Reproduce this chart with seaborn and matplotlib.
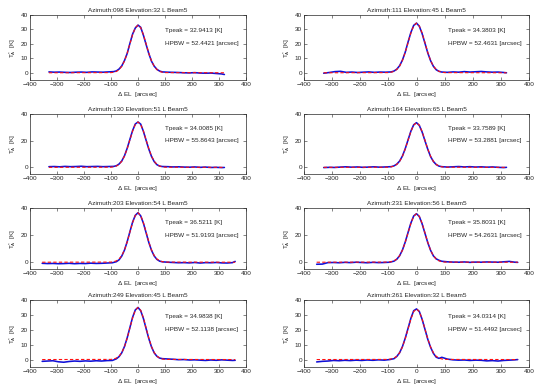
import pandas as pd
import seaborn as sns
import matplotlib
import matplotlib.pyplot as plt
matplotlib.use('Agg')

# ---------------------------------------------------------------
# beam scan data
# ---------------------------------------------------------------
X_A = [-330, -310, -290, -270, -250, -230, -210, -190, -170, -150, -130, -110, -90,
       -80, -70, -60, -50, -40, -30, -20, -10, 0, 10, 20, 30, 40, 50, 60, 70, 80, 90,
       110, 130, 150, 170, 190, 210, 230, 250, 270, 290, 310, 320]
X_B = [-355, -335, -315, -295, -275, -255, -235, -215, -195, -175, -155, -135, -115, -95,
       -80, -70, -60, -50, -40, -30, -20, -10, 0, 10, 20, 30, 40, 50, 60, 70, 80, 90,
       110, 130, 150, 170, 190, 210, 230, 250, 270, 290, 310, 330, 350, 360]

FIT_X_A = [-330, -100, -90, -80, -70, -60, -50, -40, -30, -20, -10, 0,
           10, 20, 30, 40, 50, 60, 70, 80, 90, 100, 320]
FIT_X_B = [-355, -100, -90, -80, -70, -60, -50, -40, -30, -20, -10, 0,
           10, 20, 30, 40, 50, 60, 70, 80, 90, 100, 360]

DATA_1 = [0.6, 0.4, 0.5, 0.3, 0.2, 0.4, 0.5, 0.3, 0.6, 0.5, 0.4, 0.6, 0.8,
          1.3, 2.6, 4.8, 8.5, 13.4, 20.3, 26.8, 31.0, 33.0, 31.5, 26.0, 19.6, 13.3, 8.0, 4.6, 2.4, 1.2, 0.6,
          0.4, 0.3, 0.2, 0.0, -0.1, 0.1, -0.2, -0.3, -0.2, -0.5, -0.8, -1.2]
DATA_2 = [-0.3, 0.2, 0.8, 1.0, 0.3, 0.5, 0.2, 0.4, 0.6, 0.3, 0.5, 0.4, 0.6,
          1.2, 2.5, 4.9, 8.8, 14.3, 21.3, 27.9, 32.8, 34.4, 32.2, 27.1, 20.5, 13.8, 8.4, 4.5, 2.1, 1.0, 0.5,
          0.3, 0.6, 0.4, 0.8, 0.5, 0.7, 0.9, 0.6, 0.4, 0.5, 0.2, 0.0]
DATA_3 = [0.5, 0.6, 0.4, 0.7, 0.5, 0.6, 0.8, 0.5, 0.6, 0.7, 0.5, 0.6, 0.7,
          1.2, 2.5, 4.8, 8.7, 14.3, 21.0, 27.6, 32.5, 34.0, 32.4, 27.0, 20.3, 13.7, 8.2, 4.3, 2.0, 0.9, 0.6,
          0.5, 0.3, 0.4, 0.2, 0.1, 0.3, 0.0, 0.2, -0.1, 0.0, -0.2, -0.1]
DATA_4 = [-0.2, 0.0, -0.1, 0.2, 0.4, 0.1, 0.3, 0.0, 0.2, 0.4, 0.1, 0.3, 0.5,
          1.1, 2.4, 4.7, 8.5, 14.0, 20.6, 27.1, 31.9, 33.5, 31.4, 26.5, 20.0, 13.6, 8.1, 4.4, 2.1, 0.9, 0.5,
          0.2, 0.4, 0.6, 0.3, 0.5, 0.2, 0.4, 0.1, 0.3, 0.0, -0.2, 0.0]
DATA_5 = [-0.8, -1.0, -0.9, -1.1, -1.0, -0.8, -1.1, -0.9, -1.0, -0.7, -0.9, -0.8, -0.6, -0.4,
          0.4, 1.8, 4.6, 9.0, 15.2, 22.5, 29.6, 34.6, 36.5, 34.2, 28.8, 21.8, 14.6, 8.8, 4.6, 2.1, 0.8, 0.3,
          0.0, -0.2, -0.4, -0.3, -0.5, -0.2, -0.6, -0.3, -0.4, -0.2, -0.5, -0.6, -0.3, 0.6]
DATA_6 = [-1.5, -1.4, -0.3, -0.2, -0.4, -0.1, -0.3, 0.0, -0.2, -0.4, -0.1, -0.3, -0.2, 0.0,
          0.8, 2.2, 4.8, 9.0, 14.9, 22.0, 28.9, 34.1, 35.8, 33.7, 28.3, 21.4, 14.5, 8.8, 4.7, 2.5, 1.4, 0.7,
          0.3, 0.1, 0.0, 0.2, -0.1, 0.1, 0.0, 0.2, 0.1, 0.0, 0.3, 0.6, 0.0, -0.1]
DATA_7 = [-1.2, -1.0, -0.8, -1.5, -1.8, -1.3, -1.0, -1.2, -0.9, -1.1, -0.8, -1.0, -0.7, -0.6,
          0.5, 2.0, 4.6, 8.8, 14.6, 21.5, 28.4, 33.3, 35.0, 32.8, 27.6, 20.8, 14.1, 8.5, 4.5, 2.2, 1.0, 0.6,
          0.4, 0.2, -0.1, 0.0, -0.3, -0.2, -0.4, -0.6, -0.3, -0.5, -0.2, -0.4, -0.6, -0.5]
DATA_8 = [-1.6, -1.2, -1.0, -0.6, -0.8, -0.5, -0.7, -0.4, -0.6, -0.3, -0.5, -0.2, -0.4, 0.0,
          0.6, 2.1, 4.6, 8.7, 14.4, 21.0, 27.7, 32.8, 34.0, 32.3, 27.0, 20.4, 13.7, 8.3, 4.2, 1.6, 0.8, 1.5,
          0.3, -0.2, -0.4, -0.3, -0.6, -0.4, -0.5, -0.9, -0.7, -1.0, -0.6, -0.4, -0.2, 0.0]

FIT_1 = [0.0, 0.1, 0.4, 0.9, 2.2, 4.5, 8.2, 13.6, 20.0, 26.4, 31.2, 33.0,
         31.2, 26.4, 20.0, 13.6, 8.2, 4.5, 2.2, 0.9, 0.4, 0.1, 0.0]
FIT_2 = [0.0, 0.1, 0.4, 1.0, 2.3, 4.6, 8.6, 14.1, 20.9, 27.5, 32.5, 34.4,
         32.5, 27.5, 20.9, 14.1, 8.6, 4.6, 2.3, 1.0, 0.4, 0.1, 0.0]
FIT_3 = [0.0, 0.1, 0.4, 1.0, 2.2, 4.6, 8.5, 14.0, 20.6, 27.2, 32.2, 34.0,
         32.2, 27.2, 20.6, 14.0, 8.5, 4.6, 2.2, 1.0, 0.4, 0.1, 0.0]
FIT_4 = [0.0, 0.1, 0.4, 0.9, 2.2, 4.5, 8.3, 13.8, 20.3, 26.8, 31.7, 33.5,
         31.7, 26.8, 20.3, 13.8, 8.3, 4.5, 2.2, 0.9, 0.4, 0.1, 0.0]
FIT_5 = [0.0, 0.1, 0.4, 1.0, 2.4, 4.9, 9.1, 15.0, 22.2, 29.2, 34.5, 36.5,
         34.5, 29.2, 22.2, 15.0, 9.1, 4.9, 2.4, 1.0, 0.4, 0.1, 0.0]
FIT_6 = [0.0, 0.1, 0.4, 1.0, 2.4, 4.8, 8.9, 14.7, 21.7, 28.6, 33.9, 35.8,
         33.9, 28.6, 21.7, 14.7, 8.9, 4.8, 2.4, 1.0, 0.4, 0.1, 0.0]
FIT_7 = [0.0, 0.1, 0.4, 1.0, 2.3, 4.7, 8.7, 14.4, 21.2, 28.0, 33.1, 35.0,
         33.1, 28.0, 21.2, 14.4, 8.7, 4.7, 2.3, 1.0, 0.4, 0.1, 0.0]
FIT_8 = [0.0, 0.1, 0.4, 1.0, 2.2, 4.6, 8.5, 14.0, 20.6, 27.2, 32.2, 34.0,
         32.2, 27.2, 20.6, 14.0, 8.5, 4.6, 2.2, 1.0, 0.4, 0.1, 0.0]

TITLES = ["Azimuth:098 Elevation:32 L Beam5", "Azimuth:111 Elevation:45 L Beam5",
          "Azimuth:130 Elevation:51 L Beam5", "Azimuth:164 Elevation:65 L Beam5",
          "Azimuth:203 Elevation:54 L Beam5", "Azimuth:231 Elevation:56 L Beam5",
          "Azimuth:249 Elevation:45 L Beam5", "Azimuth:261 Elevation:32 L Beam5"]
TPEAK = ["32.9413", "34.3803", "34.0085", "33.7589", "36.5211", "35.8031", "34.9838", "34.0314"]
HPBW = ["52.4421", "52.4631", "55.8643", "53.2881", "51.9193", "54.2631", "52.1138", "51.4492"]

Y_TICKS = [[0, 10, 20, 30, 40], [0, 20, 40], [0, 20, 40], [0, 10, 20, 30, 40]]

# ---------------------------------------------------------------
sns.set_style("ticks")
plt.rcParams['font.family'] = ['Liberation Sans', 'DejaVu Sans']
plt.rcParams['mathtext.fontset'] = 'custom'
plt.rcParams['mathtext.rm'] = 'Liberation Sans'
plt.rcParams['mathtext.it'] = 'Liberation Sans'

FS = 4.6
data_lists = [DATA_1, DATA_2, DATA_3, DATA_4, DATA_5, DATA_6, DATA_7, DATA_8]
fit_lists = [FIT_1, FIT_2, FIT_3, FIT_4, FIT_5, FIT_6, FIT_7, FIT_8]

# axes boxes in pixels: (left, right) per column, (top, bottom) per row
cols = [(30, 246), (304, 529)]
rows = [(15, 80), (114, 174), (208, 269), (300, 367)]
W, H = 542, 392

fig = plt.figure(figsize=(W / 100, H / 100), dpi=100)
for i in range(8):
    r, c = i // 2, i % 2
    (l, rr), (t, b) = cols[c], rows[r]
    ax = fig.add_axes([l / W, 1 - b / H, (rr - l) / W, (b - t) / H])
    x = X_A if i < 4 else X_B
    fx = FIT_X_A if i < 4 else FIT_X_B
    df = pd.DataFrame({"x": x, "y": data_lists[i]})
    dfit = pd.DataFrame({"x": fx, "y": fit_lists[i]})
    sns.lineplot(data=df, x="x", y="y", color="#1010d8", lw=1.15, ax=ax, sort=False)
    sns.lineplot(data=dfit, x="x", y="y", color="#ff1010", lw=0.8, ax=ax, sort=False,
                 linestyle=(0, (3, 2)))
    ax.set_xlim(-400, 400)
    ax.set_ylim(-5, 40)
    ax.set_xticks(range(-400, 401, 100))
    ax.set_yticks(Y_TICKS[r])
    ax.tick_params(direction="in", length=2, width=0.4, labelsize=FS, pad=1.5,
                   top=True, right=True)
    for s in ax.spines.values():
        s.set_linewidth(0.5)
    ax.set_title(TITLES[i], fontsize=FS, pad=2.5)
    ax.set_xlabel(r"$\Delta$ EL  [arcsec]", fontsize=FS, labelpad=2)
    ax.set_ylabel(r"T$_A^*$  [K]", fontsize=FS, labelpad=2)
    tx = 100 if c == 0 else 112
    ax.text(tx, 29, "Tpeak = " + TPEAK[i] + " [K]", fontsize=FS, va="center")
    ax.text(tx, 20, "HPBW = " + HPBW[i] + " [arcsec]", fontsize=FS, va="center")

fig.savefig("out.png", dpi=100)
plt.close(fig)
